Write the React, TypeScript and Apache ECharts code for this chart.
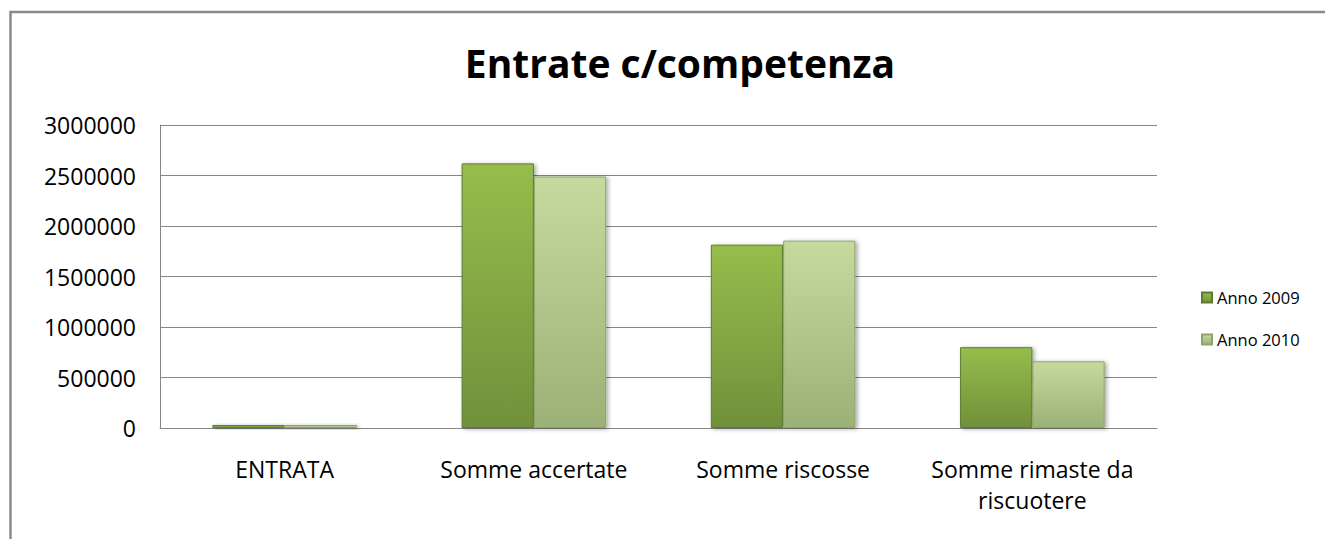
import React, { useEffect, useRef } from "react";
import * as echarts from "echarts";

const categories = ["ENTRATA", "Somme accertate", "Somme riscosse", "Somme rimaste da\nriscuotere"];
const series2009 = [30000, 2620000, 1815000, 800000];
const series2010 = [30000, 2490000, 1855000, 660000];
const yTicks = [0, 500000, 1000000, 1500000, 2000000, 2500000, 3000000];
const seriesNames = ["Anno 2009", "Anno 2010"];

const FONT = "'Open Sans', Lato, sans-serif";

export default function App() {
  const ref = useRef<HTMLDivElement>(null);
  useEffect(() => {
    if (!ref.current) return;
    const chart = echarts.init(ref.current, null, { renderer: "svg" });
    const grad = (top: string, bottom: string) =>
      new echarts.graphic.LinearGradient(0, 0, 0, 1, [
        { offset: 0, color: top },
        { offset: 1, color: bottom },
      ]);
    chart.setOption({
      animation: false,
      backgroundColor: "#ffffff",
      textStyle: { fontFamily: FONT },
      title: {
        text: "Entrate c/competenza",
        left: 675,
        textAlign: "center",
        top: 38,
        textStyle: { fontSize: 39, fontWeight: "bold", color: "#000", fontFamily: FONT },
      },
      graphic: [
        {
          type: "rect",
          shape: { x: 10.5, y: 12, width: 1400, height: 600 },
          style: { fill: "none", stroke: "#8a8a8a", lineWidth: 2.5 },
          silent: true,
        },
      ],
      legend: {
        orient: "vertical",
        left: 1196,
        top: 284,
        icon: "rect",
        itemWidth: 10,
        itemHeight: 10,
        itemGap: 25,
        textStyle: { fontSize: 16.5, color: "#000", fontFamily: FONT },
        data: seriesNames,
      },
      grid: { left: 160, right: 168, top: 125, bottom: 111, containLabel: false },
      xAxis: {
        type: "category",
        data: categories,
        axisLine: { lineStyle: { color: "#868686" } },
        axisTick: { show: false },
        axisLabel: { color: "#000", fontSize: 23, lineHeight: 31, margin: 25, interval: 0 },
      },
      yAxis: {
        type: "value",
        min: 0,
        max: 3000000,
        interval: 500000,
        axisLine: { show: true, lineStyle: { color: "#868686" } },
        axisTick: { show: false },
        splitLine: { lineStyle: { color: "#868686" } },
        axisLabel: {
          color: "#000",
          fontSize: 23,
          margin: 24,
          formatter: (v: number) => (yTicks.includes(v) ? String(v) : ""),
        },
      },
      series: [
        {
          name: seriesNames[0],
          type: "bar",
          data: series2009,
          barGap: "0%",
          barCategoryGap: "42%",
          itemStyle: {
            color: grad("#96bd4c", "#71903a"),
            borderColor: "#5f7a30",
            borderWidth: 1,
            shadowColor: "rgba(0,0,0,0.35)",
            shadowBlur: 4,
            shadowOffsetX: 2,
            shadowOffsetY: 1,
          },
        },
        {
          name: seriesNames[1],
          type: "bar",
          data: series2010,
          itemStyle: {
            color: grad("#c6da9e", "#9bb176"),
            borderColor: "#8da46a",
            borderWidth: 1,
            shadowColor: "rgba(0,0,0,0.35)",
            shadowBlur: 4,
            shadowOffsetX: 2,
            shadowOffsetY: 1,
          },
        },
      ],
    });
    return () => chart.dispose();
  }, []);
  return (
    <div
      ref={ref}
      style={{ position: "fixed", left: 0, top: 0, width: 1325, height: 539 }}
    />
  );
}
